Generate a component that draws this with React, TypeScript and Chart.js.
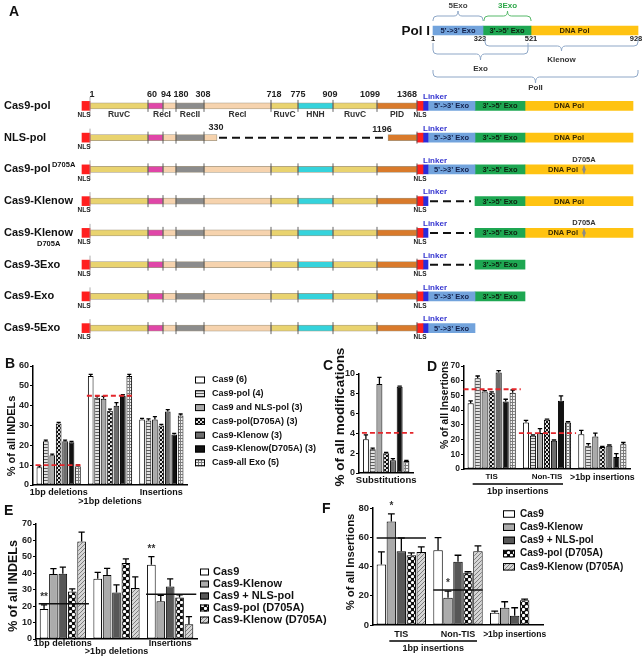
import React, { useEffect, useRef } from 'react';
import { Chart, registerables } from 'chart.js';

Chart.register(...registerables);

const FONT = "'Liberation Sans', Arial, Helvetica, sans-serif";
const bold = (size: number) => `bold ${size}px ${FONT}`;

/* ================= Panel A data (schematic units along each construct) ================= */
const constructNames = ['Cas9-pol', 'NLS-pol', 'Cas9-pol', 'Cas9-Klenow', 'Cas9-Klenow', 'Cas9-3Exo', 'Cas9-Exo', 'Cas9-5Exo'];
const constructMutation = ['', '', 'D705A', '', 'D705A', '', '', ''];
const cas9Domains = ['RuvC', 'BH', 'RecI', 'RecII', 'RecI', 'RuvC', 'HNH', 'RuvC', 'PID'];
const cas9Bounds = [10, 68, 83, 96, 124, 191, 218, 253, 297, 337];
const cas9Residues = ['1', '60', '94', '180', '308', '718', '775', '909', '1099', '1368'];
const cas9ResidueAt = [12, 72, 86, 101, 123, 194, 218, 250, 290, 327];
const cas9DomainLabels = ['RuvC', 'RecI', 'RecII', 'RecI', 'RuvC', 'HNH', 'RuvC', 'PID'];
const cas9DomainLabelSpan = [[0, 1], [1, 3], [3, 4], [4, 5], [5, 6], [6, 7], [7, 8], [8, 9]];
const nlsN = [2, 10];
const nlsC = [337, 343];
const linker = [343, 348];
const polDomains = ['5’->3’ Exo', '3’->5’ Exo', 'DNA Pol'];
const polBounds = [348, 395, 445, 553];
const rowEnd = [553, 553, 553, 553, 553, 445, 445, 395];
const rowGap: (number[] | null)[] = [null, [137, 308], null, [348, 395], [348, 395], [348, 395], null, null];
const gapResidues = ['330', '1196'];
const mutationAt = 504;

const polIName = 'Pol I';
const polIBounds = [353, 403, 451, 558];
const polIResidues = ['1', '323', '521', '928'];
const polIResidueAt = [353, 400, 451, 556];
const polIBraceLabels = ['5Exo', '3Exo', 'Klenow', 'Exo', 'PolI'];
const polIBraceFrom = [353, 404, 405, 353, 353];
const polIBraceTo = [403, 451, 558, 448, 558];

/* ================= Panel B ================= */
const bCategories = ['1bp deletions', '>1bp deletions', 'Insertions'];
const bSeries = ['Cas9 (6)', 'Cas9-pol (4)', 'Cas9 and NLS-pol (3)', 'Cas9-pol(D705A) (3)', 'Cas9-Klenow (3)', 'Cas9-Klenow(D705A) (3)', 'Cas9-all Exo (5)'];
const bValues = [[9, 55, 33], [22, 44, 32.5], [15, 43.5, 33], [31, 37.5, 30], [22, 40, 37], [21.5, 45, 25.5], [9.5, 55, 35]];
const bErrors = [[0.6, 0.8, 0.6], [0.6, 0.8, 0.8], [0.6, 1.2, 1.5], [0.6, 0.8, 0.6], [0.6, 1.5, 1], [0.5, 0.5, 0.5], [0.6, 0.8, 0.8]];
const bExpected = [10, 45, null];

/* ================= Panel C ================= */
const cCategories = ['Substitutions'];
const cValues = [[3.4], [2.4], [9.0], [2.0], [1.3], [8.7], [1.2]];
const cErrors = [[0.45], [0.12], [0.65], [0.08], [0.15], [0.08], [0.08]];
const cExpected = [4.05];

/* ================= Panel D ================= */
const dCategories = ['TIS', 'Non-TIS', '>1bp insertions'];
const dValues = [[44.7, 31.6, 23.7], [61.6, 22.6, 15.8], [52.6, 24.4, 22.1], [51.9, 33.4, 14.9], [65.5, 19.2, 15.8], [45.8, 46.3, 8.1], [51.9, 31.6, 16.9]];
const dErrors = [[1.6, 1.4, 2.5], [1.6, 0.5, 1.4], [0.7, 3.1, 2.3], [0.5, 0.5, 0.5], [1.3, 0.5, 0.5], [1.6, 3.4, 2.3], [1.8, 0.5, 1.1]];
const dExpected = [54.2, 24.4, null];
const dGroupLabel = '1bp insertions';

/* ================= Panel E ================= */
const eCategories = ['1bp deletions', '>1bp deletions', 'Insertions'];
const eSeries = ['Cas9', 'Cas9-Klenow', 'Cas9 + NLS-pol', 'Cas9-pol (D705A)', 'Cas9-Klenow (D705A)'];
const eValues = [[18.3, 36.6, 45.2], [39.5, 39, 23], [39.7, 28.3, 32], [28.9, 46.2, 25.2], [59.4, 31, 9]];
const eErrors = [[2.5, 3.9, 5], [3.3, 4, 3.5], [4, 4.7, 4.6], [1.6, 2.6, 1.7], [5.7, 6.8, 4.6]];
const eExpected = [21.5, null, 27.3];
const eStars = [{ series: 0, cat: 0, text: '**' }, { series: 0, cat: 2, text: '**' }];

/* ================= Panel F ================= */
const fCategories = ['TIS', 'Non-TIS', '>1bp insertions'];
const fSeries = ['Cas9', 'Cas9-Klenow', 'Cas9 + NLS-pol', 'Cas9-pol (D705A)', 'Cas9-Klenow (D705A)'];
const fValues = [[41.4, 51.1, 8.4], [70.8, 18.6, 11.8], [50.5, 43.2, 6.4], [47.7, 35.7, 17], [50, 50.5, null]];
const fErrors = [[8.6, 8.6, 1.1], [5.2, 4.6, 4.1], [9, 4.5, 5.4], [1.6, 0.7, 0.7], [3.4, 3.6, null]];
const fExpected = [59.5, 23.9, null];
const fStars = [{ series: 1, cat: 0, text: '*' }, { series: 1, cat: 1, text: '*' }];
const fGroupLabel = '1bp insertions';

/* ================= Styles ================= */
const domainColor: Record<string, string> = {
  NLS: '#ff1f1f', RuvC: '#e9d36f', BH: '#e046a8', RecI: '#f6d3ae', RecII: '#8c8c8c', HNH: '#35d3dc', PID: '#d97a2b',
  Linker: '#2b2bdc', '5’->3’ Exo': '#72a3dc', '3’->5’ Exo': '#1ea752', 'DNA Pol': '#ffc312',
};
const bFills = ['#ffffff', 'hstripe', '#a9a9a9', 'checker', '#6d6d6d', '#121212', 'grid'];
const eFills = ['#ffffff', '#ababab', '#575757', 'dots', 'diag'];
const braceLayout = [
  { start: -9.5, mid: -14.5, tip: -19.5, label: -25, color: '#8ea7c7', text: '#444' },
  { start: -9.5, mid: -14.5, tip: -19.5, label: -25, color: '#57b96a', text: '#2fa84a' },
  { start: 7.5, mid: 15.5, tip: 20.5, label: 29.5, color: '#8ea7c7', text: '#333' },
  { start: 12.5, mid: 23.5, tip: 29.5, label: 38.5, color: '#8ea7c7', text: '#333' },
  { start: 39.5, mid: 46.5, tip: 52.5, label: 57, color: '#8ea7c7', text: '#333' },
];

function makePattern(kind: string): CanvasPattern | string {
  if (kind.startsWith('#')) return kind;
  const c = document.createElement('canvas');
  const g = c.getContext('2d');
  if (!g) return '#999';
  if (kind === 'hstripe') {
    c.width = 4; c.height = 3;
    g.fillStyle = '#e2e2e2'; g.fillRect(0, 0, 4, 3);
    g.fillStyle = '#5c5c5c'; g.fillRect(0, 0, 4, 1);
  } else if (kind === 'checker' || kind === 'dots') {
    const n = kind === 'checker' ? 4 : 6;
    c.width = n; c.height = n;
    g.fillStyle = '#0d0d0d'; g.fillRect(0, 0, n, n);
    g.fillStyle = '#ffffff';
    const r = n * 0.27;
    [[n / 4, n / 4], [(3 * n) / 4, (3 * n) / 4]].forEach(([x, y]) => {
      g.beginPath(); g.arc(x, y, r, 0, Math.PI * 2); g.fill();
    });
  } else if (kind === 'grid') {
    c.width = 3; c.height = 3;
    g.fillStyle = '#f2f2f2'; g.fillRect(0, 0, 3, 3);
    g.fillStyle = '#7c7c7c'; g.fillRect(0, 0, 3, 1); g.fillRect(0, 0, 1, 3);
  } else if (kind === 'diag') {
    c.width = 4; c.height = 4;
    g.fillStyle = '#d6d6d6'; g.fillRect(0, 0, 4, 4);
    g.strokeStyle = '#7f7f7f'; g.lineWidth = 1;
    g.beginPath();
    g.moveTo(-1, 5); g.lineTo(5, -1);
    g.moveTo(-1, 1); g.lineTo(1, -1);
    g.moveTo(3, 5); g.lineTo(5, 3);
    g.stroke();
  }
  return g.createPattern(c, 'repeat') || '#999';
}

function text(ctx: CanvasRenderingContext2D, s: string, x: number, y: number, size: number, color = '#222', align: CanvasTextAlign = 'center', baseline: CanvasTextBaseline = 'middle') {
  ctx.font = bold(size);
  ctx.fillStyle = color;
  ctx.textAlign = align;
  ctx.textBaseline = baseline;
  ctx.fillText(s, x, y);
}

/* ================= Panel A charts ================= */
function clipSeg(r: number, s: number, e: number): [number, number] | null {
  if (s >= rowEnd[r]) return null;
  let a = s;
  let b = Math.min(e, rowEnd[r]);
  const g = rowGap[r];
  if (g) {
    if (a >= g[0] && b <= g[1]) return null;
    if (a < g[0] && b > g[0]) b = g[0];
    else if (a < g[1] && b > g[1]) a = g[1];
  }
  return b > a ? [a, b] : null;
}

function schematicConfig(labels: string[], datasets: any[], pad: any, plugin: any) {
  return {
    type: 'bar',
    data: { labels, datasets },
    options: {
      indexAxis: 'y',
      animation: false,
      responsive: false,
      maintainAspectRatio: false,
      events: [],
      layout: { padding: pad },
      plugins: { legend: { display: false }, tooltip: { enabled: false } },
      scales: {
        x: { type: 'linear', min: 0, max: 560, display: false },
        y: { type: 'category', display: false },
      },
    },
    plugins: [plugin],
  };
}

function drawPolTexts(ctx: CanvasRenderingContext2D, X: (u: number) => number, y: number, ranges: ([number, number] | null)[], shiftPol: number) {
  const colors = ['#14224d', '#0d200f', '#3a2a00'];
  ranges.forEach((rg, k) => {
    if (!rg) return;
    const c = (rg[0] + rg[1]) / 2 + (k === 2 ? shiftPol : 0);
    text(ctx, polDomains[k], X(c), y + 0.5, 7.5, colors[k]);
  });
}

function makeConstructs() {
  const segs: { kind: string; s: number; e: number; thick: number; cas: boolean }[] = [
    { kind: 'NLS', s: nlsN[0], e: nlsN[1], thick: 9, cas: false },
    ...cas9Domains.map((d, k) => ({ kind: d, s: cas9Bounds[k], e: cas9Bounds[k + 1], thick: 6, cas: true })),
    { kind: 'NLS', s: nlsC[0], e: nlsC[1], thick: 9, cas: false },
    { kind: 'Linker', s: linker[0], e: linker[1], thick: 9, cas: false },
    ...polDomains.map((d, k) => ({ kind: d, s: polBounds[k], e: polBounds[k + 1], thick: 9, cas: false })),
  ];
  const datasets = segs.map((sg) => ({
    label: sg.kind,
    data: constructNames.map((_, r) => clipSeg(r, sg.s, sg.e)),
    backgroundColor: domainColor[sg.kind],
    borderColor: sg.cas ? 'rgba(90,70,30,0.55)' : 'rgba(0,0,0,0)',
    borderWidth: sg.cas ? 0.8 : 0,
    borderSkipped: false,
    barThickness: sg.thick,
    grouped: false,
  }));
  const plugin = {
    id: 'constructAnno',
    afterDatasetsDraw(chart: any) {
      const ctx: CanvasRenderingContext2D = chart.ctx;
      const xs = chart.scales.x;
      const ys = chart.scales.y;
      const X = (u: number) => xs.getPixelForValue(u);
      ctx.save();
      constructNames.forEach((name, r) => {
        const y = ys.getPixelForValue(r);
        const g = rowGap[r];
        // row name
        text(ctx, name, 4, y, 11, '#111', 'left');
        ctx.font = bold(11);
        const w = ctx.measureText(name).width;
        if (constructMutation[r]) {
          if (r === 2) text(ctx, constructMutation[r], 4 + w + 1.5, y - 4, 7.5, '#111', 'left');
          else text(ctx, constructMutation[r], 37, y + 11, 7.5, '#111', 'left');
        }
        // domain boundary ticks
        cas9Bounds.forEach((b, k) => {
          if (b > rowEnd[r]) return;
          if (g && b > g[0] && b < g[1]) return;
          ctx.beginPath();
          if (k === 0) {
            ctx.strokeStyle = '#9a9a9a'; ctx.lineWidth = 0.8;
            ctx.moveTo(X(b), y - 9); ctx.lineTo(X(b), y + 10);
          } else {
            ctx.strokeStyle = '#555'; ctx.lineWidth = 0.9;
            ctx.moveTo(X(b), y - 6); ctx.lineTo(X(b), y + 6);
          }
          ctx.stroke();
        });
        // deleted region
        if (g) {
          ctx.save();
          ctx.setLineDash([8, 5]);
          ctx.strokeStyle = '#111'; ctx.lineWidth = 2;
          ctx.beginPath(); ctx.moveTo(X(g[0] + 2), y); ctx.lineTo(X(g[1] - 4), y); ctx.stroke();
          ctx.restore();
        }
        // NLS labels
        text(ctx, 'NLS', X((nlsN[0] + nlsN[1]) / 2) - 2, y + 9.5, 6.5, '#222');
        if (r !== 1) text(ctx, 'NLS', X((nlsC[0] + nlsC[1]) / 2), y + 9.5, 6.5, '#222');
        // Linker label
        text(ctx, 'Linker', X(linker[0]), y - 9, 8, '#3535d0', 'left');
        // pol domain names
        const ranges = polDomains.map((_, k) => clipSeg(r, polBounds[k], polBounds[k + 1]));
        drawPolTexts(ctx, X, y, ranges, constructMutation[r] ? -16 : -10);
        // mutation
        if (constructMutation[r]) {
          const mx = X(mutationAt);
          text(ctx, constructMutation[r], mx, y - 9.5, 7.5, '#333');
          ctx.fillStyle = '#8a8a8a';
          ctx.beginPath();
          ctx.moveTo(mx, y - 5); ctx.lineTo(mx + 1.8, y); ctx.lineTo(mx, y + 5); ctx.lineTo(mx - 1.8, y); ctx.closePath();
          ctx.fill();
        }
        if (r === 0) {
          cas9Residues.forEach((t, k) => text(ctx, t, X(cas9ResidueAt[k]), y - 11, 9, '#222'));
          cas9DomainLabels.forEach((t, k) => {
            const [a, b] = cas9DomainLabelSpan[k];
            text(ctx, t, X((cas9Bounds[a] + cas9Bounds[b]) / 2), y + 8.5, 8.5, '#333');
          });
        }
        if (g && r === 1) {
          text(ctx, gapResidues[0], X(g[0] - 1), y - 10, 9, '#222');
          text(ctx, gapResidues[1], X(g[1] - 6), y - 8, 9, '#222');
        }
      });
      ctx.restore();
    },
  };
  return schematicConfig(constructNames, datasets, { left: 80, right: 4, top: 10, bottom: 1 }, plugin);
}

function makePolI() {
  const datasets = polDomains.map((d, k) => ({
    label: d,
    data: [[polIBounds[k], polIBounds[k + 1]]],
    backgroundColor: domainColor[d],
    borderWidth: 0,
    barThickness: 9,
    grouped: false,
  }));
  const plugin = {
    id: 'polIAnno',
    afterDatasetsDraw(chart: any) {
      const ctx: CanvasRenderingContext2D = chart.ctx;
      const X = (u: number) => chart.scales.x.getPixelForValue(u);
      const y = chart.scales.y.getPixelForValue(0);
      ctx.save();
      text(ctx, polIName, X(polIBounds[0]) - 3, y + 0.5, 13.5, '#111', 'right');
      polIResidues.forEach((t, k) => text(ctx, t, X(polIResidueAt[k]), y + 8.5, 7.5, '#222'));
      drawPolTexts(ctx, X, y, polDomains.map((_, k) => [polIBounds[k], polIBounds[k + 1]] as [number, number]), -10);
      polIBraceLabels.forEach((lbl, k) => {
        const L = braceLayout[k];
        const x1 = X(polIBraceFrom[k]);
        const x2 = X(polIBraceTo[k]);
        const xc = (x1 + x2) / 2;
        const ys = y + L.start, ym = y + L.mid, yt = y + L.tip;
        const rr = 4;
        const sgn = Math.sign(L.mid - L.start);
        ctx.strokeStyle = L.color; ctx.lineWidth = 1;
        ctx.beginPath();
        ctx.moveTo(x1, ys);
        ctx.lineTo(x1, ym - sgn * rr);
        ctx.quadraticCurveTo(x1, ym, x1 + rr, ym);
        ctx.lineTo(xc - rr, ym);
        ctx.quadraticCurveTo(xc, ym, xc, yt);
        ctx.quadraticCurveTo(xc, ym, xc + rr, ym);
        ctx.lineTo(x2 - rr, ym);
        ctx.quadraticCurveTo(x2, ym, x2, ym - sgn * rr);
        ctx.lineTo(x2, ys);
        ctx.stroke();
        text(ctx, lbl, xc, y + L.label, 8, L.text);
      });
      ctx.restore();
    },
  };
  return schematicConfig([polIName], datasets, { left: 80, right: 4, top: 20, bottom: 54 }, plugin);
}

/* ================= Bar panels (B-F) ================= */
interface BarSpec {
  key: string;
  categories: string[];
  series: string[];
  values: (number | null)[][];
  errors: (number | null)[][];
  expected: (number | null)[];
  expectedStyle: 'red' | 'black';
  expExt: [number, number];
  stars?: { series: number; cat: number; text: string }[];
  fills: string[];
  yMax: number;
  yStep: number;
  yTitle: string;
  yTitleFont: number;
  yTitleAt: [number, number];
  yW: number;
  xH: number;
  pad: { left: number; right: number; top: number; bottom: number };
  yFont: number;
  xFonts: number[];
  xLH: number;
  xPad: number;
  secondLine?: number[];
  catPct: number;
  barPct: number;
  legend?: { x: number; y: number; step: number; bw: number; bh: number; font: number; textX: number };
  bracket?: { from: number; to: number; extL: number; extR: number; lineDy: number; textDy: number; text: string; font: number };
}

function barExtras(s: BarSpec) {
  return {
    id: 'extras-' + s.key,
    afterDatasetsDraw(chart: any) {
      const ctx: CanvasRenderingContext2D = chart.ctx;
      const ys = chart.scales.y;
      const xs = chart.scales.x;
      const area = chart.chartArea;
      ctx.save();
      // error bars (upper)
      s.values.forEach((vals, di) => {
        const meta = chart.getDatasetMeta(di);
        vals.forEach((v, j) => {
          const e = s.errors[di][j];
          const bar = meta.data[j];
          if (v == null || e == null || !bar) return;
          const yb = ys.getPixelForValue(v);
          const yt = ys.getPixelForValue(v + e);
          const half = bar.width * 0.36;
          ctx.strokeStyle = '#000'; ctx.lineWidth = 1.3;
          ctx.beginPath();
          ctx.moveTo(bar.x, yb); ctx.lineTo(bar.x, yt);
          ctx.moveTo(bar.x - half, yt); ctx.lineTo(bar.x + half, yt);
          ctx.stroke();
        });
      });
      // expected-level lines
      s.expected.forEach((rv, j) => {
        if (rv == null) return;
        let l = Infinity;
        let r = -Infinity;
        s.values.forEach((vals, di) => {
          const b = chart.getDatasetMeta(di).data[j];
          if (vals[j] == null || !b) return;
          l = Math.min(l, b.x - b.width / 2);
          r = Math.max(r, b.x + b.width / 2);
        });
        const y = ys.getPixelForValue(rv);
        ctx.save();
        if (s.expectedStyle === 'red') {
          ctx.strokeStyle = '#e4262b'; ctx.lineWidth = 1.8; ctx.setLineDash([5, 3]);
        } else {
          ctx.strokeStyle = '#111'; ctx.lineWidth = 1.5;
        }
        ctx.beginPath(); ctx.moveTo(l - s.expExt[0], y); ctx.lineTo(r + s.expExt[1], y); ctx.stroke();
        ctx.restore();
      });
      // significance stars
      (s.stars || []).forEach((st) => {
        const b = chart.getDatasetMeta(st.series).data[st.cat];
        const v = s.values[st.series][st.cat];
        const e = s.errors[st.series][st.cat] || 0;
        if (!b || v == null) return;
        text(ctx, st.text, b.x, ys.getPixelForValue(v + e) - 5, 10, '#333', 'center', 'alphabetic');
      });
      // y title
      ctx.save();
      ctx.translate(s.yTitleAt[0], s.yTitleAt[1]);
      ctx.rotate(-Math.PI / 2);
      text(ctx, s.yTitle, 0, 0, s.yTitleFont, '#111');
      ctx.restore();
      // legend
      if (s.legend) {
        const L = s.legend;
        s.series.forEach((name, i) => {
          const y = L.y + i * L.step;
          ctx.fillStyle = chart.data.datasets[i].backgroundColor;
          ctx.fillRect(L.x, y - L.bh / 2, L.bw, L.bh);
          ctx.strokeStyle = '#000'; ctx.lineWidth = 1;
          ctx.strokeRect(L.x + 0.5, y - L.bh / 2 + 0.5, L.bw - 1, L.bh - 1);
          text(ctx, name, L.textX, y, L.font, '#111', 'left');
        });
      }
      // group bracket
      if (s.bracket) {
        const B = s.bracket;
        const x0 = xs.getPixelForValue(B.from) - B.extL;
        const x1 = xs.getPixelForValue(B.to) + B.extR;
        ctx.strokeStyle = '#000'; ctx.lineWidth = 1.3;
        ctx.beginPath(); ctx.moveTo(x0, area.bottom + B.lineDy); ctx.lineTo(x1, area.bottom + B.lineDy); ctx.stroke();
        text(ctx, B.text, (x0 + x1) / 2, area.bottom + B.textDy, B.font, '#111');
      }
      ctx.restore();
    },
  };
}

function barConfig(s: BarSpec) {
  const datasets = s.series.map((name, i) => ({
    label: name,
    data: s.values.map((v) => v)[i],
    backgroundColor: makePattern(s.fills[i]),
    borderColor: '#000',
    borderWidth: 1,
    borderSkipped: false,
    categoryPercentage: s.catPct,
    barPercentage: s.barPct,
  }));
  return {
    type: 'bar',
    data: { labels: s.categories, datasets },
    options: {
      animation: false,
      responsive: false,
      maintainAspectRatio: false,
      events: [],
      layout: { padding: s.pad },
      plugins: { legend: { display: false }, tooltip: { enabled: false } },
      scales: {
        x: {
          ticks: {
            font: (c: any) => ({ family: FONT, size: s.xFonts[c.index] ?? s.xFonts[0], weight: 'bold', lineHeight: s.xLH }),
            color: '#111',
            padding: s.xPad,
            maxRotation: 0,
            minRotation: 0,
            autoSkip: false,
            callback: (_v: any, i: number) => (s.secondLine && s.secondLine.includes(i) ? ['', s.categories[i]] : s.categories[i]),
          },
          grid: { display: false, drawTicks: false },
          border: { display: true, color: '#000', width: 1.5 },
          afterFit: (sc: any) => { sc.height = s.xH; },
        },
        y: {
          min: 0,
          max: s.yMax,
          ticks: { stepSize: s.yStep, font: { family: FONT, size: s.yFont, weight: 'bold' }, color: '#222', padding: 1 },
          grid: { display: true, drawOnChartArea: false, drawTicks: true, tickLength: 3, color: '#000', lineWidth: 1 },
          border: { display: true, color: '#000', width: 1.5 },
          afterFit: (sc: any) => { sc.width = s.yW; },
        },
      },
    },
    plugins: [barExtras(s)],
  };
}

const panelB: BarSpec = {
  key: 'B', categories: bCategories, series: bSeries, values: bValues, errors: bErrors,
  expected: bExpected, expectedStyle: 'red', expExt: [1, 1], fills: bFills,
  yMax: 60, yStep: 10, yTitle: '% of all INDELs', yTitleFont: 11, yTitleAt: [12, 91],
  yW: 33, xH: 32, pad: { left: 0, right: 143, top: 21, bottom: 0 },
  yFont: 9, xFonts: [9, 9, 9], xLH: 1, xPad: 3.5, secondLine: [1],
  catPct: 0.877, barPct: 0.88,
  legend: { x: 195, y: 35, step: 13.8, bw: 10, bh: 7, font: 9, textX: 212 },
};

const panelC: BarSpec = {
  key: 'C', categories: cCategories, series: bSeries, values: cValues, errors: cErrors,
  expected: cExpected, expectedStyle: 'red', expExt: [1, 4], fills: bFills,
  yMax: 10, yStep: 2, yTitle: '% of all modifications', yTitleFont: 13.5, yTitleAt: [10, 72],
  yW: 29, xH: 27, pad: { left: 0, right: 11, top: 29, bottom: 0 },
  yFont: 9, xFonts: [9.5], xLH: 1, xPad: 3,
  catPct: 0.87, barPct: 0.88,
};

const panelD: BarSpec = {
  key: 'D', categories: dCategories, series: bSeries, values: dValues, errors: dErrors,
  expected: dExpected, expectedStyle: 'red', expExt: [4, 5], fills: bFills,
  yMax: 70, yStep: 10, yTitle: '% of all Insertions', yTitleFont: 10.3, yTitleAt: [17, 60],
  yW: 36, xH: 31, pad: { left: 0, right: 18, top: 21, bottom: 0 },
  yFont: 8.5, xFonts: [8, 8, 8.7], xLH: 1, xPad: 4,
  catPct: 0.886, barPct: 0.88,
  bracket: { from: 0, to: 1, extL: 19, extR: 16, lineDy: 15, textDy: 23, text: dGroupLabel, font: 9 },
};

const panelE: BarSpec = {
  key: 'E', categories: eCategories, series: eSeries, values: eValues, errors: eErrors,
  expected: eExpected, expectedStyle: 'black', expExt: [1, 3], stars: eStars, fills: eFills,
  yMax: 70, yStep: 10, yTitle: '% of all INDELs', yTitleFont: 12.5, yTitleAt: [14, 81],
  yW: 36, xH: 18, pad: { left: 0, right: 133, top: 19, bottom: 0 },
  yFont: 9, xFonts: [9, 9, 9], xLH: 0.78, xPad: 1.5, secondLine: [1],
  catPct: 0.875, barPct: 0.92,
  legend: { x: 200, y: 67, step: 12, bw: 9, bh: 7, font: 11, textX: 213 },
};

const panelF: BarSpec = {
  key: 'F', categories: fCategories, series: fSeries, values: fValues, errors: fErrors,
  expected: fExpected, expectedStyle: 'black', expExt: [0, 0], stars: fStars, fills: eFills,
  yMax: 80, yStep: 20, yTitle: '% of all Insertions', yTitleFont: 11.3, yTitleAt: [21, 62],
  yW: 43, xH: 32, pad: { left: 0, right: 101, top: 8, bottom: 0 },
  yFont: 9.5, xFonts: [9, 9, 8.5], xLH: 1, xPad: 5,
  catPct: 0.88, barPct: 0.95,
  legend: { x: 173, y: 14, step: 13.2, bw: 12, bh: 7.5, font: 10, textX: 190 },
  bracket: { from: 0, to: 1, extL: 12, extR: 19, lineDy: 16, textDy: 24, text: fGroupLabel, font: 9 },
};

/* ================= React ================= */
function ChartBox({ x, y, w, h, make }: { x: number; y: number; w: number; h: number; make: () => any }) {
  const ref = useRef<HTMLCanvasElement>(null);
  useEffect(() => {
    if (!ref.current) return;
    const chart = new Chart(ref.current, make());
    return () => chart.destroy();
  }, []);
  return <canvas ref={ref} width={w} height={h} style={{ position: 'absolute', left: x, top: y, width: w, height: h }} />;
}

const letterStyle = (x: number, y: number): React.CSSProperties => ({
  position: 'absolute', left: x, top: y, font: bold(14), color: '#111', lineHeight: '14px',
});

export default function App() {
  return (
    <div style={{ position: 'absolute', left: 0, top: 0, width: 644, height: 657, overflow: 'hidden', background: '#fff' }}>
      <ChartBox x={0} y={0} w={644} h={95} make={makePolI} />
      <ChartBox x={0} y={80} w={644} h={265} make={makeConstructs} />
      <ChartBox x={0} y={345} w={330} h={172} make={() => barConfig(panelB)} />
      <ChartBox x={330} y={345} w={95} h={155} make={() => barConfig(panelC)} />
      <ChartBox x={428} y={345} w={220} h={155} make={() => barConfig(panelD)} />
      <ChartBox x={0} y={505} w={330} h={152} make={() => barConfig(panelE)} />
      <ChartBox x={330} y={500} w={314} h={157} make={() => barConfig(panelF)} />
      <div style={letterStyle(9, 4)}>A</div>
      <div style={letterStyle(5, 356)}>B</div>
      <div style={letterStyle(323, 358)}>C</div>
      <div style={letterStyle(427, 359)}>D</div>
      <div style={letterStyle(4, 503)}>E</div>
      <div style={letterStyle(322, 501)}>F</div>
    </div>
  );
}
